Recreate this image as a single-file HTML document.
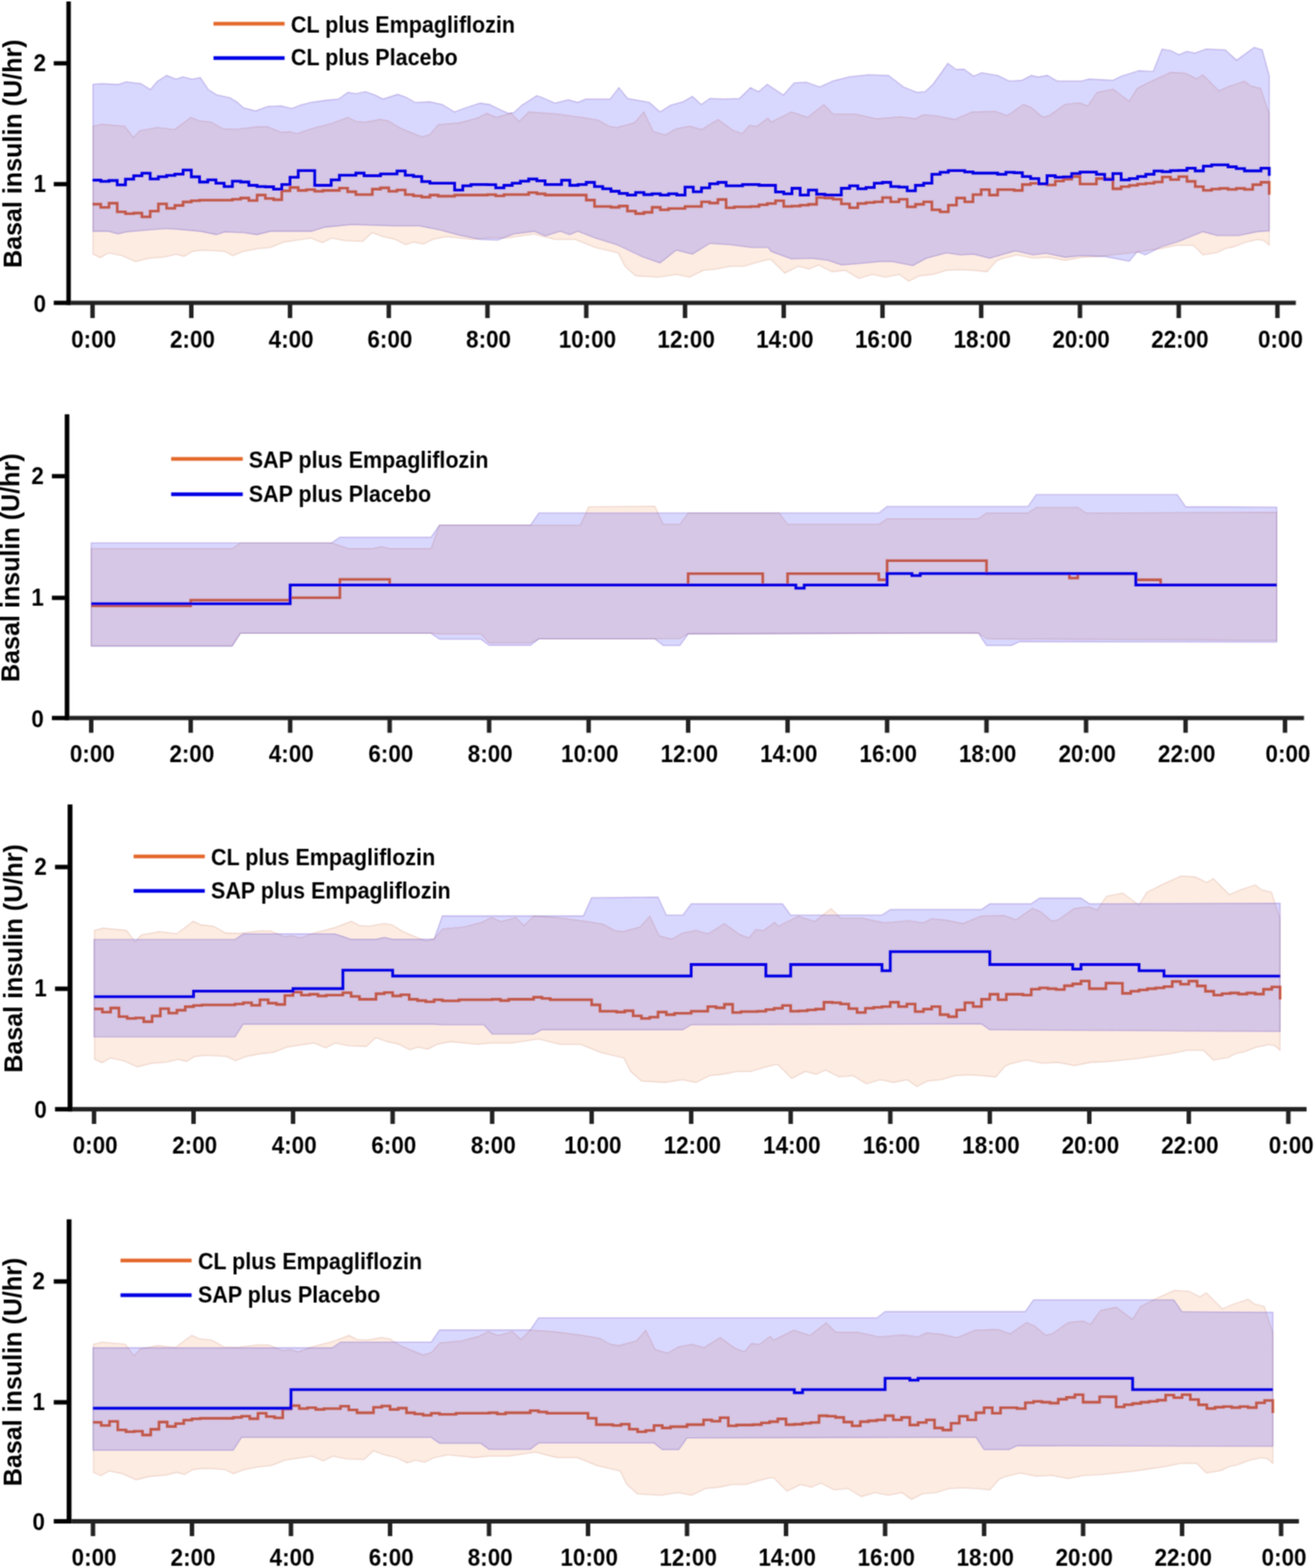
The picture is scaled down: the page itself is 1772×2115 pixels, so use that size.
<!DOCTYPE html>
<html><head><meta charset="utf-8"><title>Basal insulin</title>
<style>html,body{margin:0;padding:0;background:#fff;overflow:hidden;width:1772px;height:2115px} svg{display:block}</style>
</head><body>
<svg width="1772" height="2115" viewBox="0 0 1772 2115" font-family="'Liberation Sans', Arial, sans-serif" font-weight="bold" fill="#000">
<defs><filter id="soft" x="0" y="0" width="1772" height="2115" filterUnits="userSpaceOnUse"><feConvolveMatrix order="3" kernelMatrix="1 2 1 2 4 2 1 2 1" divisor="16" edgeMode="duplicate" preserveAlpha="false"/></filter></defs>
<rect width="1772" height="2115" fill="#fff"/>
<g filter="url(#soft)">
<path d="M125.5,170.1 L137.3,167.3 L168.2,170.1 L180.0,185.5 L188.2,176.4 L211.9,171.9 L235.5,174.6 L257.4,158.2 L268.3,162.8 L284.6,164.6 L301.0,173.7 L319.2,174.2 L346.5,171.0 L361.0,171.0 L379.2,178.3 L390.1,177.3 L401.1,180.1 L419.3,173.7 L447.3,166.4 L469.1,158.2 L480.0,163.7 L492.8,164.6 L512.8,161.0 L523.7,162.8 L538.2,171.9 L551.0,177.3 L569.2,184.6 L580.1,181.0 L591.0,168.2 L620.1,165.5 L643.8,159.2 L656.5,152.8 L669.2,158.2 L689.2,152.8 L700.2,163.7 L712.9,151.0 L729.3,151.9 L751.8,153.7 L784.6,158.2 L806.4,161.9 L821.0,170.1 L831.9,171.9 L855.5,165.5 L868.3,151.0 L881.0,177.3 L897.4,181.9 L911.9,173.7 L930.1,170.1 L946.5,174.6 L968.3,161.0 L988.3,175.5 L1001.0,180.1 L1010.2,169.2 L1021.1,170.1 L1035.6,159.2 L1040.0,164.6 L1067.3,151.0 L1089.1,158.2 L1110.9,141.0 L1123.7,153.7 L1152.8,153.7 L1181.9,160.1 L1214.6,157.3 L1234.7,160.1 L1245.6,154.6 L1263.8,156.4 L1287.4,161.0 L1311.1,151.0 L1342.0,150.1 L1358.6,155.9 L1380.2,140.7 L1391.0,145.1 L1406.2,158.0 L1414.8,155.9 L1436.4,140.7 L1455.9,138.6 L1466.7,142.9 L1479.6,124.5 L1501.2,120.2 L1522.8,136.4 L1533.6,119.1 L1555.2,108.3 L1579.0,97.5 L1598.5,98.6 L1613.6,106.2 L1622.2,100.8 L1643.8,122.4 L1658.9,115.9 L1678.4,109.4 L1687.0,115.9 L1700.0,119.1 L1711.6,153.7 L1711.6,330.8 L1704.3,324.3 L1695.6,323.2 L1680.5,326.5 L1663.2,333.0 L1652.4,335.2 L1641.6,340.6 L1622.2,343.8 L1609.2,330.8 L1587.6,330.8 L1566.0,335.2 L1544.4,338.4 L1522.8,341.6 L1501.2,343.8 L1479.6,346.0 L1458.0,347.0 L1436.4,351.3 L1414.8,347.0 L1393.2,348.1 L1371.6,343.8 L1350.0,349.2 L1343.8,352.0 L1331.1,366.5 L1312.9,364.7 L1294.7,363.8 L1276.5,364.7 L1258.3,370.2 L1240.1,372.0 L1225.6,379.3 L1212.8,370.2 L1194.6,373.8 L1176.4,370.2 L1158.2,375.6 L1140.1,364.7 L1121.9,366.5 L1103.7,357.4 L1090.9,362.9 L1076.4,359.2 L1058.2,368.4 L1040.0,350.2 L1035.6,350.2 L1021.1,353.8 L1002.9,359.2 L984.7,359.2 L966.5,362.9 L948.3,364.7 L930.1,373.8 L911.9,370.2 L888.3,373.8 L857.3,372.0 L842.8,359.2 L833.7,341.1 L802.8,333.8 L775.5,322.9 L748.2,322.9 L730.0,318.3 L720.2,315.6 L702.0,318.3 L683.8,321.1 L674.7,321.1 L656.5,321.1 L638.3,322.9 L620.1,321.1 L601.9,319.2 L583.7,322.9 L571.0,329.3 L558.3,326.5 L547.3,330.1 L532.8,322.9 L516.4,319.2 L501.9,313.8 L489.1,325.6 L465.5,324.7 L447.3,321.1 L434.6,327.4 L419.3,321.1 L401.1,323.8 L382.9,326.5 L364.7,333.8 L346.5,335.6 L328.3,339.2 L313.8,344.8 L302.8,339.2 L291.9,338.3 L273.7,337.4 L259.2,339.2 L248.3,345.7 L237.3,342.9 L222.8,346.6 L201.0,348.4 L182.8,352.9 L164.6,344.8 L146.4,341.1 L135.5,347.4 L125.5,342.9 Z" fill="rgba(232,120,45,0.14)" stroke="rgba(190,100,80,0.24)" stroke-width="1.3"/>
<path d="M124.8,275.4H135.9V279.7H147.0V274.1H158.1V285.7H169.2V288.2H180.3V287.4H191.4V292.5H202.5V284.8H213.6V275.0H224.7V281.0H235.8V277.1H246.9V272.4H258.0V270.7H269.1V270.0H280.2V270.0H291.2V270.0H302.3V270.0H313.4V268.8H324.5V267.1H335.6V270.5H346.7V263.1H357.8V267.7H368.9V269.4H380.0V257.4H391.1V252.9H402.2V256.9H413.3V255.7H424.4V258.0H435.5V256.9H446.6V256.9H457.7V253.7H468.8V258.6H479.9V262.5H491.0V262.5H502.1V255.1H513.2V253.4H524.3V258.0H535.4V256.3H546.5V262.5H557.6V264.2H568.7V265.9H579.8V263.1H590.9V264.6H602.0V264.6H613.1V263.1H624.1V263.1H635.2V263.1H646.3V263.1H657.4V262.5H668.5V264.2H679.6V262.5H690.7V262.5H701.8V262.5H712.9V259.7H724.0V261.4H735.1V263.1H746.2V263.1H757.3V263.1H768.4V263.1H779.5V263.1H790.6V269.9H801.7V278.5H812.8V278.5H823.9V279.6H835.0V277.9H846.1V284.7H857.2V288.1H868.3V286.4H879.4V279.6H890.5V283.0H901.6V281.3H912.7V281.3H923.8V278.5H934.9V278.5H946.0V272.2H957.0V273.9H968.1V269.1H979.2V280.2H990.3V279.0H1001.4V279.0H1012.5V278.5H1023.6V276.2H1034.7V274.5H1045.8V270.8H1056.9V278.5H1068.0V278.0H1079.1V276.7H1090.2V275.6H1101.3V266.5H1112.4V267.1H1123.5V268.8H1134.6V275.0H1145.7V280.2H1156.8V274.5H1167.9V273.3H1179.0V272.2H1190.1V266.5H1201.2V272.2H1212.3V268.8H1223.4V279.0H1234.5V275.6H1245.6V272.2H1256.7V283.0H1267.8V285.8H1278.9V276.7H1289.9V267.1H1301.0V272.2H1312.1V262.5H1323.2V255.7H1334.3V263.1H1345.4V255.7H1356.5V255.7H1367.6V256.9H1378.7V248.9H1389.8V247.2H1400.9V248.3H1412.0V249.5H1423.1V244.3H1434.2V241.8H1445.3V238.1H1456.4V248.3H1467.5V248.3H1478.6V240.9H1489.7V241.0H1500.8V254.6H1511.9V251.7H1523.0V250.0H1534.1V248.3H1545.2V247.2H1556.3V245.5H1567.4V238.7H1578.5V242.2H1589.6V238.2H1600.7V244.6H1611.8V251.8H1622.8V256.8H1633.9V255.0H1645.0V254.1H1656.1V255.5H1667.2V254.1H1678.3V255.5H1689.4V249.1H1700.5V245.9H1711.6V262.8" fill="none" stroke="#e4682a" stroke-width="3.6"/>
<path d="M125.5,113.7 L137.3,112.8 L159.1,114.0 L170.0,110.4 L190.0,112.8 L202.8,120.9 L211.9,110.0 L224.6,101.8 L237.3,106.8 L246.4,103.7 L259.2,106.8 L270.1,104.6 L281.0,120.9 L291.9,127.9 L310.1,131.9 L319.2,137.3 L328.3,145.5 L344.7,149.7 L361.0,143.7 L379.2,142.8 L393.8,146.4 L404.7,141.9 L419.3,138.2 L438.2,135.5 L456.4,133.7 L469.1,124.6 L480.0,126.4 L492.8,123.7 L505.5,128.2 L516.4,133.7 L536.4,127.3 L547.3,131.0 L560.1,138.2 L580.1,137.3 L596.5,141.0 L612.8,151.0 L627.4,145.5 L647.4,139.1 L660.1,141.0 L674.7,148.2 L685.6,152.8 L692.9,151.9 L703.8,141.9 L723.8,129.1 L730.0,131.0 L748.2,139.1 L766.4,134.6 L779.1,138.2 L790.0,133.7 L822.8,133.7 L834.6,118.2 L846.4,132.8 L875.5,138.2 L890.1,151.0 L904.6,141.9 L921.0,137.3 L933.7,130.0 L945.6,141.0 L957.4,132.8 L975.6,133.7 L997.4,132.8 L1012.0,118.2 L1022.9,123.7 L1034.7,113.7 L1040.0,117.3 L1056.4,128.2 L1070.9,111.9 L1087.3,110.9 L1105.5,117.3 L1123.7,109.1 L1145.5,103.7 L1171.0,100.9 L1198.3,101.8 L1218.3,117.3 L1236.5,124.6 L1247.4,123.7 L1258.3,113.7 L1278.3,85.5 L1289.2,93.7 L1300.1,93.3 L1312.9,102.8 L1323.8,98.2 L1345.6,101.8 L1360.8,109.4 L1378.1,108.3 L1391.0,101.8 L1399.7,104.0 L1412.6,101.8 L1425.6,109.4 L1458.0,109.4 L1468.8,106.6 L1501.2,108.3 L1512.0,102.9 L1535.8,95.4 L1555.2,96.4 L1567.1,66.2 L1578.9,68.4 L1589.8,73.8 L1600.6,69.4 L1611.4,71.6 L1626.5,66.2 L1652.4,67.3 L1667.6,81.3 L1691.3,64.0 L1702.1,67.3 L1711.6,101.8 L1711.6,311.4 L1695.6,312.5 L1669.7,317.8 L1641.6,317.8 L1622.2,312.5 L1587.6,326.5 L1566.0,333.0 L1544.4,343.8 L1533.6,339.5 L1522.8,352.4 L1490.4,346.0 L1458.0,344.9 L1436.4,347.0 L1410.5,341.6 L1393.2,343.8 L1369.4,338.4 L1350.0,343.8 L1334.7,348.4 L1312.9,342.9 L1294.7,343.8 L1276.5,341.1 L1249.2,348.4 L1231.0,358.3 L1203.7,352.9 L1185.5,352.9 L1158.2,355.6 L1134.6,357.4 L1116.4,351.1 L1094.6,348.4 L1067.3,349.3 L1040.0,339.2 L1035.6,333.8 L1013.8,333.8 L984.7,330.1 L957.4,328.3 L933.7,342.9 L911.9,337.4 L890.1,354.7 L866.4,346.5 L831.9,330.1 L802.8,321.1 L779.1,312.0 L768.2,316.5 L755.5,312.0 L735.5,318.3 L720.2,312.0 L692.9,315.6 L671.1,323.8 L647.4,322.9 L620.1,317.4 L592.8,310.1 L565.5,304.7 L529.2,304.7 L474.6,302.9 L438.2,306.5 L420.0,312.0 L392.0,312.0 L364.7,312.0 L346.5,316.5 L328.3,313.8 L302.8,312.9 L291.9,316.5 L270.1,312.0 L237.3,309.2 L222.8,308.3 L190.0,311.1 L170.0,312.9 L159.1,315.6 L146.4,312.0 L125.5,312.0 Z" fill="rgba(0,0,250,0.152)" stroke="rgba(80,50,180,0.32)" stroke-width="1.3"/>
<path d="M124.8,243.0H135.9V244.7H147.0V243.5H158.1V249.4H169.2V241.7H180.3V237.1H191.4V233.6H202.5V241.3H213.6V238.3H224.7V236.6H235.8V234.9H246.9V229.4H258.0V238.5H269.1V245.5H280.2V242.6H291.2V247.2H302.3V251.7H313.4V244.3H324.5V245.5H335.6V250.0H346.7V251.7H357.8V252.0H368.9V255.1H380.0V248.9H391.1V239.2H402.2V230.1H413.3V230.1H424.4V250.0H435.5V250.0H446.6V242.6H457.7V236.4H468.8V236.4H479.9V233.5H491.0V237.0H502.1V237.0H513.2V234.7H524.3V234.7H535.4V230.7H546.5V236.4H557.6V238.1H568.7V244.9H579.8V247.2H590.9V247.2H602.0V247.2H613.1V256.3H624.1V250.6H635.2V248.9H646.3V248.9H657.4V249.2H668.5V253.4H679.6V250.0H690.7V247.2H701.8V244.3H712.9V241.5H724.0V243.8H735.1V248.9H746.2V248.9H757.3V243.2H768.4V250.0H779.5V248.9H790.6V246.0H801.7V251.7H812.8V254.6H823.9V258.0H835.0V260.8H846.1V263.1H857.2V259.7H868.3V262.5H879.4V261.4H890.5V263.1H901.6V261.4H912.7V263.1H923.8V252.3H934.9V258.6H946.0V253.4H957.0V247.8H968.1V246.0H979.2V250.6H990.3V250.6H1001.4V248.9H1012.5V248.9H1023.6V250.0H1034.7V250.0H1045.8V258.8H1056.9V261.4H1068.0V254.0H1079.1V263.1H1090.2V256.3H1101.3V262.0H1112.4V263.1H1123.5V263.1H1134.6V254.0H1145.7V250.6H1156.8V254.6H1167.9V252.9H1179.0V247.2H1190.1V246.0H1201.2V251.7H1212.3V252.3H1223.4V257.4H1234.5V250.0H1245.6V247.2H1256.7V235.2H1267.8V232.4H1278.9V230.1H1289.9V230.1H1301.0V231.8H1312.1V233.5H1323.2V233.5H1334.3V233.5H1345.4V235.2H1356.5V232.4H1367.6V233.0H1378.7V238.1H1389.8V240.9H1400.9V247.8H1412.0V237.0H1423.1V239.2H1434.2V238.7H1445.3V234.1H1456.4V232.2H1467.5V232.2H1478.6V235.2H1489.7V242.1H1500.8V234.1H1511.9V242.6H1523.0V240.9H1534.1V238.1H1545.2V235.2H1556.3V230.7H1567.4V231.6H1578.5V230.1H1589.6V229.8H1600.7V226.8H1611.8V230.5H1622.8V224.1H1633.9V222.3H1645.0V222.3H1656.1V225.0H1667.2V227.3H1678.3V230.5H1689.4V230.5H1700.5V226.8H1711.6V237.3" fill="none" stroke="#0000e4" stroke-width="3.8"/>
<rect x="89.5" y="2" width="6.0" height="409.4" fill="#000"/>
<rect x="72.5" y="405.6" width="23.0" height="5.7999999999999545" fill="#000"/>
<rect x="95.5" y="405.6" width="1652.0" height="5.7999999999999545" fill="#222"/>
<rect x="72.5" y="245.5" width="17.5" height="5.8" fill="#000"/>
<rect x="72.5" y="82.5" width="17.5" height="5.8" fill="#000"/>
<rect x="121.8" y="410.9" width="6" height="18.100000000000023" fill="#222"/>
<rect x="255.0" y="410.9" width="6" height="18.100000000000023" fill="#222"/>
<rect x="388.1" y="410.9" width="6" height="18.100000000000023" fill="#222"/>
<rect x="521.3" y="410.9" width="6" height="18.100000000000023" fill="#222"/>
<rect x="654.4" y="410.9" width="6" height="18.100000000000023" fill="#222"/>
<rect x="787.6" y="410.9" width="6" height="18.100000000000023" fill="#222"/>
<rect x="920.8" y="410.9" width="6" height="18.100000000000023" fill="#222"/>
<rect x="1053.9" y="410.9" width="6" height="18.100000000000023" fill="#222"/>
<rect x="1187.1" y="410.9" width="6" height="18.100000000000023" fill="#222"/>
<rect x="1320.2" y="410.9" width="6" height="18.100000000000023" fill="#222"/>
<rect x="1453.4" y="410.9" width="6" height="18.100000000000023" fill="#222"/>
<rect x="1586.6" y="410.9" width="6" height="18.100000000000023" fill="#222"/>
<rect x="1719.7" y="410.9" width="6" height="18.100000000000023" fill="#222"/>
<text transform="translate(126.3,468.5) scale(1,1.08)" text-anchor="middle" font-size="30.3">0:00</text>
<text transform="translate(259.5,468.5) scale(1,1.08)" text-anchor="middle" font-size="30.3">2:00</text>
<text transform="translate(392.6,468.5) scale(1,1.08)" text-anchor="middle" font-size="30.3">4:00</text>
<text transform="translate(525.8,468.5) scale(1,1.08)" text-anchor="middle" font-size="30.3">6:00</text>
<text transform="translate(658.9,468.5) scale(1,1.08)" text-anchor="middle" font-size="30.3">8:00</text>
<text transform="translate(792.1,468.5) scale(1,1.08)" text-anchor="middle" font-size="30.3">10:00</text>
<text transform="translate(925.3,468.5) scale(1,1.08)" text-anchor="middle" font-size="30.3">12:00</text>
<text transform="translate(1058.4,468.5) scale(1,1.08)" text-anchor="middle" font-size="30.3">14:00</text>
<text transform="translate(1191.6,468.5) scale(1,1.08)" text-anchor="middle" font-size="30.3">16:00</text>
<text transform="translate(1324.7,468.5) scale(1,1.08)" text-anchor="middle" font-size="30.3">18:00</text>
<text transform="translate(1457.9,468.5) scale(1,1.08)" text-anchor="middle" font-size="30.3">20:00</text>
<text transform="translate(1591.1,468.5) scale(1,1.08)" text-anchor="middle" font-size="30.3">22:00</text>
<text transform="translate(1726.7,468.5) scale(1,1.08)" text-anchor="middle" font-size="30.3">0:00</text>
<text transform="translate(62,259.1) scale(1,1.08)" text-anchor="end" font-size="30.3">1</text>
<text transform="translate(62,96.1) scale(1,1.08)" text-anchor="end" font-size="30.3">2</text>
<text transform="translate(62,420.7) scale(1,1.08)" text-anchor="end" font-size="30.3">0</text>
<text transform="translate(29.1,207.35) rotate(-90) scale(1,1.045)" text-anchor="middle" font-size="33.85">Basal insulin (U/hr)</text>
<rect x="287.9" y="29.5" width="95.90000000000003" height="5" fill="#e4682a"/>
<rect x="287.9" y="75.8" width="95.90000000000003" height="5" fill="#0000e4"/>
<text transform="translate(392.3,43.6) scale(1,1.08)" font-size="29">CL plus Empagliflozin</text>
<text transform="translate(392.3,88.1) scale(1,1.08)" font-size="29">CL plus Placebo</text>
<path d="M123.0,739.9 L313.1,739.9 L324.2,732.4 L447.2,732.4 L458.4,735.8 L469.6,739.8 L503.1,739.8 L514.3,737.1 L525.5,739.8 L581.4,739.8 L592.6,708.3 L782.6,708.3 L793.8,683.7 L883.2,682.8 L894.4,707.1 L916.8,707.1 L928.0,691.9 L1050.9,691.9 L1062.1,707.1 L1185.1,707.1 L1196.3,699.6 L1319.3,699.6 L1330.4,691.9 L1386.3,691.9 L1397.5,684.3 L1453.4,684.3 L1464.6,691.9 L1721.7,691.0 L1721.7,864.0 L1330.4,861.7 L1319.3,853.8 L928.0,855.0 L916.8,861.7 L726.7,861.7 L715.5,867.4 L659.6,867.4 L648.5,855.0 L592.6,855.0 L581.4,854.2 L324.2,854.2 L313.1,871.2 L123.0,871.2 Z" fill="rgba(232,120,45,0.14)" stroke="rgba(190,100,80,0.24)" stroke-width="1.3"/>
<path d="M123.0,817.1H257.2V809.5H391.3V806.2H458.4V781.5H525.5V789.2H928.0V773.7H1028.6V789.2H1062.1V773.7H1185.1V782.1H1196.3V756.3H1330.4V773.7H1442.2V779.8H1453.4V773.7H1531.7V782.1H1565.2V789.3H1721.7" fill="none" stroke="#e4682a" stroke-width="3.6"/>
<path d="M123.0,732.4 L447.2,732.4 L458.4,724.7 L581.4,724.7 L592.6,708.3 L715.5,708.3 L726.7,691.9 L1185.1,691.9 L1196.3,683.2 L1386.3,683.2 L1397.5,667.2 L1587.6,667.2 L1598.8,683.5 L1721.7,684.1 L1721.7,866.1 L1375.2,865.5 L1364.0,870.7 L1330.4,870.7 L1319.3,853.8 L928.0,855.0 L916.8,870.7 L894.4,870.7 L883.2,861.7 L726.7,861.7 L715.5,870.4 L659.6,870.4 L648.5,862.2 L592.6,862.2 L581.4,854.2 L324.2,854.2 L313.1,871.5 L123.0,871.5 Z" fill="rgba(0,0,250,0.152)" stroke="rgba(80,50,180,0.32)" stroke-width="1.3"/>
<path d="M123.0,814.4H391.3V789.2H1073.3V793.4H1084.5V789.2H1196.3V773.7H1229.8V776.4H1241.0V773.7H1531.7V789.2H1721.7" fill="none" stroke="#0000e4" stroke-width="3.8"/>
<rect x="87.3" y="558.8" width="6.200000000000003" height="412.6" fill="#000"/>
<rect x="70" y="965.6" width="23.5" height="5.7999999999999545" fill="#000"/>
<rect x="93.5" y="965.6" width="1665.0" height="5.7999999999999545" fill="#222"/>
<rect x="70" y="803.5" width="17.799999999999997" height="5.8" fill="#000"/>
<rect x="70" y="639.4" width="17.799999999999997" height="5.8" fill="#000"/>
<rect x="120.0" y="970.9" width="6" height="17.5" fill="#222"/>
<rect x="254.2" y="970.9" width="6" height="17.5" fill="#222"/>
<rect x="388.3" y="970.9" width="6" height="17.5" fill="#222"/>
<rect x="522.5" y="970.9" width="6" height="17.5" fill="#222"/>
<rect x="656.6" y="970.9" width="6" height="17.5" fill="#222"/>
<rect x="790.8" y="970.9" width="6" height="17.5" fill="#222"/>
<rect x="925.0" y="970.9" width="6" height="17.5" fill="#222"/>
<rect x="1059.1" y="970.9" width="6" height="17.5" fill="#222"/>
<rect x="1193.3" y="970.9" width="6" height="17.5" fill="#222"/>
<rect x="1327.4" y="970.9" width="6" height="17.5" fill="#222"/>
<rect x="1461.6" y="970.9" width="6" height="17.5" fill="#222"/>
<rect x="1595.8" y="970.9" width="6" height="17.5" fill="#222"/>
<rect x="1729.9" y="970.9" width="6" height="17.5" fill="#222"/>
<text transform="translate(124.5,1028.3) scale(1,1.08)" text-anchor="middle" font-size="30.3">0:00</text>
<text transform="translate(258.7,1028.3) scale(1,1.08)" text-anchor="middle" font-size="30.3">2:00</text>
<text transform="translate(392.8,1028.3) scale(1,1.08)" text-anchor="middle" font-size="30.3">4:00</text>
<text transform="translate(527.0,1028.3) scale(1,1.08)" text-anchor="middle" font-size="30.3">6:00</text>
<text transform="translate(661.1,1028.3) scale(1,1.08)" text-anchor="middle" font-size="30.3">8:00</text>
<text transform="translate(795.3,1028.3) scale(1,1.08)" text-anchor="middle" font-size="30.3">10:00</text>
<text transform="translate(929.5,1028.3) scale(1,1.08)" text-anchor="middle" font-size="30.3">12:00</text>
<text transform="translate(1063.6,1028.3) scale(1,1.08)" text-anchor="middle" font-size="30.3">14:00</text>
<text transform="translate(1197.8,1028.3) scale(1,1.08)" text-anchor="middle" font-size="30.3">16:00</text>
<text transform="translate(1331.9,1028.3) scale(1,1.08)" text-anchor="middle" font-size="30.3">18:00</text>
<text transform="translate(1466.1,1028.3) scale(1,1.08)" text-anchor="middle" font-size="30.3">20:00</text>
<text transform="translate(1600.3,1028.3) scale(1,1.08)" text-anchor="middle" font-size="30.3">22:00</text>
<text transform="translate(1736.9,1028.3) scale(1,1.08)" text-anchor="middle" font-size="30.3">0:00</text>
<text transform="translate(59,817.1) scale(1,1.08)" text-anchor="end" font-size="30.3">1</text>
<text transform="translate(59,653.0) scale(1,1.08)" text-anchor="end" font-size="30.3">2</text>
<text transform="translate(59,980.7) scale(1,1.08)" text-anchor="end" font-size="30.3">0</text>
<text transform="translate(26.4,765.75) rotate(-90) scale(1,1.045)" text-anchor="middle" font-size="33.85">Basal insulin (U/hr)</text>
<rect x="230.8" y="616.5" width="96.59999999999997" height="5" fill="#e4682a"/>
<rect x="230.8" y="664.2" width="96.59999999999997" height="5" fill="#0000e4"/>
<text transform="translate(335.4,630.6) scale(1,1.08)" font-size="29">SAP plus Empagliflozin</text>
<text transform="translate(335.4,676.5) scale(1,1.08)" font-size="29">SAP plus Placebo</text>
<path d="M127.5,1254.8 L139.4,1252.0 L170.5,1254.8 L182.4,1270.3 L190.7,1261.2 L214.6,1256.6 L238.4,1259.4 L260.5,1242.8 L271.4,1247.5 L287.9,1249.3 L304.4,1258.5 L322.7,1259.0 L350.3,1255.7 L364.9,1255.7 L383.2,1263.1 L394.2,1262.1 L405.3,1264.9 L423.6,1258.5 L451.9,1251.1 L473.8,1242.8 L484.8,1248.4 L497.7,1249.3 L517.9,1245.7 L528.9,1247.5 L543.5,1256.6 L556.4,1262.1 L574.7,1269.4 L585.7,1265.8 L596.7,1252.9 L626.0,1250.2 L649.9,1243.8 L662.7,1237.4 L675.5,1242.8 L695.7,1237.4 L706.8,1248.4 L719.6,1235.6 L736.1,1236.5 L758.8,1238.3 L791.9,1242.8 L813.8,1246.6 L828.5,1254.8 L839.5,1256.6 L863.3,1250.2 L876.2,1235.6 L889.0,1262.1 L905.6,1266.7 L920.2,1258.5 L938.5,1254.8 L955.0,1259.4 L977.0,1245.7 L997.2,1260.3 L1010.0,1264.9 L1019.2,1253.9 L1030.2,1254.8 L1044.9,1243.8 L1049.3,1249.3 L1076.8,1235.6 L1098.8,1242.8 L1120.7,1225.5 L1133.7,1238.3 L1163.0,1238.3 L1192.3,1244.7 L1225.3,1241.9 L1245.5,1244.7 L1256.5,1239.2 L1274.9,1241.0 L1298.7,1245.7 L1322.5,1235.6 L1353.7,1234.7 L1370.4,1240.5 L1392.2,1225.2 L1403.1,1229.6 L1418.4,1242.6 L1427.1,1240.5 L1448.8,1225.2 L1468.5,1223.1 L1479.4,1227.4 L1492.4,1208.9 L1514.2,1204.6 L1535.9,1220.9 L1546.8,1203.4 L1568.6,1192.6 L1592.6,1181.7 L1612.2,1182.8 L1627.5,1190.5 L1636.1,1185.0 L1657.9,1206.8 L1673.1,1200.2 L1692.8,1193.7 L1701.4,1200.2 L1714.5,1203.4 L1726.2,1238.3 L1726.2,1416.7 L1718.9,1410.2 L1710.1,1409.1 L1694.9,1412.4 L1677.4,1418.9 L1666.6,1421.1 L1655.7,1426.6 L1636.1,1429.8 L1623.0,1416.7 L1601.2,1416.7 L1579.5,1421.1 L1557.7,1424.4 L1535.9,1427.6 L1514.2,1429.8 L1492.4,1432.0 L1470.6,1433.0 L1448.8,1437.4 L1427.1,1433.0 L1405.3,1434.1 L1383.5,1429.8 L1361.8,1435.2 L1355.5,1438.1 L1342.7,1452.7 L1324.4,1450.9 L1306.0,1449.9 L1287.7,1450.9 L1269.3,1456.4 L1251.0,1458.2 L1236.4,1465.6 L1223.5,1456.4 L1205.1,1460.0 L1186.8,1456.4 L1168.4,1461.8 L1150.2,1450.9 L1131.8,1452.7 L1113.5,1443.5 L1100.6,1449.0 L1086.0,1445.3 L1067.6,1454.6 L1049.3,1436.2 L1044.9,1436.2 L1030.2,1439.9 L1011.9,1445.3 L993.5,1445.3 L975.2,1449.0 L956.9,1450.9 L938.5,1460.0 L920.2,1456.4 L896.4,1460.0 L865.1,1458.2 L850.5,1445.3 L841.3,1427.1 L810.2,1419.7 L782.7,1408.7 L755.2,1408.7 L736.8,1404.1 L726.9,1401.4 L708.6,1404.1 L690.2,1406.9 L681.1,1406.9 L662.7,1406.9 L644.4,1408.7 L626.0,1406.9 L607.7,1405.0 L589.4,1408.7 L576.6,1415.2 L563.8,1412.4 L552.7,1416.0 L538.0,1408.7 L521.5,1405.0 L506.9,1399.6 L494.0,1411.5 L470.2,1410.6 L451.9,1406.9 L439.1,1413.3 L423.6,1406.9 L405.3,1409.7 L387.0,1412.4 L368.6,1419.7 L350.3,1421.5 L331.9,1425.2 L317.3,1430.8 L306.2,1425.2 L295.2,1424.3 L276.9,1423.4 L262.3,1425.2 L251.3,1431.7 L240.2,1428.9 L225.6,1432.6 L203.6,1434.4 L185.3,1439.0 L166.9,1430.8 L148.6,1427.1 L137.6,1433.4 L127.5,1428.9 Z" fill="rgba(232,120,45,0.14)" stroke="rgba(190,100,80,0.24)" stroke-width="1.3"/>
<path d="M126.8,1360.9H138.0V1365.2H149.2V1359.6H160.4V1371.3H171.5V1373.8H182.7V1373.0H193.9V1378.1H205.1V1370.4H216.3V1360.5H227.5V1366.5H238.6V1362.6H249.8V1357.9H261.0V1356.2H272.2V1355.5H283.4V1355.5H294.6V1355.5H305.8V1355.5H316.9V1354.3H328.1V1352.5H339.3V1356.0H350.5V1348.5H361.7V1353.1H372.9V1354.9H384.1V1342.8H395.2V1338.2H406.4V1342.3H417.6V1341.1H428.8V1343.4H440.0V1342.3H451.2V1342.3H462.4V1339.0H473.5V1344.0H484.7V1347.9H495.9V1347.9H507.1V1340.4H518.3V1338.7H529.5V1343.4H540.6V1341.7H551.8V1347.9H563.0V1349.6H574.2V1351.3H585.4V1348.5H596.6V1350.0H607.8V1350.0H618.9V1348.5H630.1V1348.5H641.3V1348.5H652.5V1348.5H663.7V1347.9H674.9V1349.6H686.0V1347.9H697.2V1347.9H708.4V1347.9H719.6V1345.1H730.8V1346.8H742.0V1348.5H753.2V1348.5H764.3V1348.5H775.5V1348.5H786.7V1348.5H797.9V1355.4H809.1V1364.0H820.3V1364.0H831.5V1365.1H842.6V1363.4H853.8V1370.3H865.0V1373.7H876.2V1372.0H887.4V1365.1H898.6V1368.6H909.7V1366.8H920.9V1366.8H932.1V1364.0H943.3V1364.0H954.5V1357.7H965.7V1359.4H976.9V1354.6H988.0V1365.7H999.2V1364.5H1010.4V1364.5H1021.6V1364.0H1032.8V1361.7H1044.0V1360.0H1055.2V1356.3H1066.3V1364.0H1077.5V1363.5H1088.7V1362.2H1099.9V1361.1H1111.1V1351.9H1122.3V1352.5H1133.5V1354.3H1144.6V1360.5H1155.8V1365.7H1167.0V1360.0H1178.2V1358.8H1189.4V1357.7H1200.6V1351.9H1211.7V1357.7H1222.9V1354.3H1234.1V1364.5H1245.3V1361.1H1256.5V1357.7H1267.7V1368.6H1278.9V1371.4H1290.0V1362.2H1301.2V1352.5H1312.4V1357.7H1323.6V1347.9H1334.8V1341.1H1346.0V1348.5H1357.1V1341.1H1368.3V1341.1H1379.5V1342.3H1390.7V1334.2H1401.9V1332.5H1413.1V1333.6H1424.3V1334.8H1435.4V1329.6H1446.6V1327.1H1457.8V1323.3H1469.0V1333.6H1480.2V1333.6H1491.4V1326.1H1502.6V1326.2H1513.7V1339.9H1524.9V1337.0H1536.1V1335.3H1547.3V1333.6H1558.5V1332.5H1569.7V1330.8H1580.8V1323.9H1592.0V1327.5H1603.2V1323.4H1614.4V1329.9H1625.6V1337.1H1636.8V1342.2H1648.0V1340.3H1659.1V1339.4H1670.3V1340.9H1681.5V1339.4H1692.7V1340.9H1703.9V1334.4H1715.1V1331.2H1726.3V1348.2" fill="none" stroke="#e4682a" stroke-width="3.6"/>
<path d="M126.8,1267.2 L316.9,1267.2 L328.1,1259.6 L451.2,1259.6 L462.4,1263.1 L473.5,1267.0 L507.1,1267.0 L518.3,1264.4 L529.5,1267.0 L585.4,1267.0 L596.6,1235.5 L786.7,1235.5 L797.9,1210.9 L887.4,1210.1 L898.6,1234.4 L920.9,1234.4 L932.1,1219.1 L1055.2,1219.1 L1066.3,1234.4 L1189.4,1234.4 L1200.6,1226.8 L1323.6,1226.8 L1334.8,1219.1 L1390.7,1219.1 L1401.9,1211.5 L1457.8,1211.5 L1469.0,1219.1 L1726.3,1218.3 L1726.3,1391.3 L1334.8,1389.0 L1323.6,1381.2 L932.1,1382.3 L920.9,1389.0 L730.8,1389.0 L719.6,1394.8 L663.7,1394.8 L652.5,1382.3 L596.6,1382.3 L585.4,1381.5 L328.1,1381.5 L316.9,1398.6 L126.8,1398.6 Z" fill="rgba(0,0,250,0.152)" stroke="rgba(80,50,180,0.32)" stroke-width="1.3"/>
<path d="M126.8,1344.4H261.0V1336.8H395.2V1333.5H462.4V1308.7H529.5V1316.5H932.1V1301.0H1032.8V1316.5H1066.3V1301.0H1189.4V1309.4H1200.6V1283.6H1334.8V1301.0H1446.6V1307.1H1457.8V1301.0H1536.1V1309.4H1569.7V1316.6H1726.3" fill="none" stroke="#0000e4" stroke-width="3.8"/>
<rect x="91.2" y="1085.1" width="6.5" height="414.10000000000014" fill="#000"/>
<rect x="74.2" y="1493.2" width="23.5" height="6.0" fill="#000"/>
<rect x="97.7" y="1493.2" width="1664.3" height="6.0" fill="#222"/>
<rect x="74.2" y="1330.7" width="17.5" height="6.0" fill="#000"/>
<rect x="74.2" y="1166.5" width="17.5" height="6.0" fill="#000"/>
<rect x="123.8" y="1498.7" width="6" height="17.299999999999955" fill="#222"/>
<rect x="258.0" y="1498.7" width="6" height="17.299999999999955" fill="#222"/>
<rect x="392.2" y="1498.7" width="6" height="17.299999999999955" fill="#222"/>
<rect x="526.5" y="1498.7" width="6" height="17.299999999999955" fill="#222"/>
<rect x="660.7" y="1498.7" width="6" height="17.299999999999955" fill="#222"/>
<rect x="794.9" y="1498.7" width="6" height="17.299999999999955" fill="#222"/>
<rect x="929.1" y="1498.7" width="6" height="17.299999999999955" fill="#222"/>
<rect x="1063.3" y="1498.7" width="6" height="17.299999999999955" fill="#222"/>
<rect x="1197.6" y="1498.7" width="6" height="17.299999999999955" fill="#222"/>
<rect x="1331.8" y="1498.7" width="6" height="17.299999999999955" fill="#222"/>
<rect x="1466.0" y="1498.7" width="6" height="17.299999999999955" fill="#222"/>
<rect x="1600.2" y="1498.7" width="6" height="17.299999999999955" fill="#222"/>
<rect x="1734.4" y="1498.7" width="6" height="17.299999999999955" fill="#222"/>
<text transform="translate(128.3,1555.8) scale(1,1.08)" text-anchor="middle" font-size="30.3">0:00</text>
<text transform="translate(262.5,1555.8) scale(1,1.08)" text-anchor="middle" font-size="30.3">2:00</text>
<text transform="translate(396.7,1555.8) scale(1,1.08)" text-anchor="middle" font-size="30.3">4:00</text>
<text transform="translate(531.0,1555.8) scale(1,1.08)" text-anchor="middle" font-size="30.3">6:00</text>
<text transform="translate(665.2,1555.8) scale(1,1.08)" text-anchor="middle" font-size="30.3">8:00</text>
<text transform="translate(799.4,1555.8) scale(1,1.08)" text-anchor="middle" font-size="30.3">10:00</text>
<text transform="translate(933.6,1555.8) scale(1,1.08)" text-anchor="middle" font-size="30.3">12:00</text>
<text transform="translate(1067.8,1555.8) scale(1,1.08)" text-anchor="middle" font-size="30.3">14:00</text>
<text transform="translate(1202.1,1555.8) scale(1,1.08)" text-anchor="middle" font-size="30.3">16:00</text>
<text transform="translate(1336.3,1555.8) scale(1,1.08)" text-anchor="middle" font-size="30.3">18:00</text>
<text transform="translate(1470.5,1555.8) scale(1,1.08)" text-anchor="middle" font-size="30.3">20:00</text>
<text transform="translate(1604.7,1555.8) scale(1,1.08)" text-anchor="middle" font-size="30.3">22:00</text>
<text transform="translate(1741.4,1555.8) scale(1,1.08)" text-anchor="middle" font-size="30.3">0:00</text>
<text transform="translate(63,1344.4) scale(1,1.08)" text-anchor="end" font-size="30.3">1</text>
<text transform="translate(63,1180.2) scale(1,1.08)" text-anchor="end" font-size="30.3">2</text>
<text transform="translate(63,1508.4) scale(1,1.08)" text-anchor="end" font-size="30.3">0</text>
<text transform="translate(30.1,1292.85) rotate(-90) scale(1,1.045)" text-anchor="middle" font-size="33.85">Basal insulin (U/hr)</text>
<rect x="180.2" y="1152.7" width="96.0" height="5" fill="#e4682a"/>
<rect x="180.2" y="1199.2" width="96.0" height="5" fill="#0000e4"/>
<text transform="translate(284.6,1166.8) scale(1,1.08)" font-size="29">CL plus Empagliflozin</text>
<text transform="translate(284.6,1211.5) scale(1,1.08)" font-size="29">SAP plus Empagliflozin</text>
<path d="M126.1,1813.2 L137.9,1810.4 L168.9,1813.2 L180.7,1828.6 L189.0,1819.5 L212.7,1815.0 L236.4,1817.7 L258.4,1801.3 L269.3,1805.9 L285.6,1807.7 L302.1,1816.8 L320.3,1817.3 L347.7,1814.1 L362.2,1814.1 L380.5,1821.4 L391.4,1820.4 L402.4,1823.2 L420.7,1816.8 L448.8,1809.5 L470.6,1801.3 L481.6,1806.8 L494.4,1807.7 L514.4,1804.1 L525.4,1805.9 L539.9,1815.0 L552.8,1820.4 L571.0,1827.7 L581.9,1824.1 L592.9,1811.3 L622.0,1808.6 L645.8,1802.3 L658.5,1795.9 L671.3,1801.3 L691.3,1795.9 L702.4,1806.8 L715.1,1794.1 L731.5,1795.0 L754.1,1796.8 L787.0,1801.3 L808.8,1805.0 L823.5,1813.2 L834.4,1815.0 L858.1,1808.6 L870.9,1794.1 L883.6,1820.4 L900.1,1825.0 L914.6,1816.8 L932.9,1813.2 L949.3,1817.7 L971.2,1804.1 L991.2,1818.6 L1004.0,1823.2 L1013.2,1812.3 L1024.1,1813.2 L1038.7,1802.3 L1043.1,1807.7 L1070.4,1794.1 L1092.3,1801.3 L1114.2,1784.1 L1127.0,1796.8 L1156.2,1796.8 L1185.4,1803.2 L1218.1,1800.4 L1238.3,1803.2 L1249.2,1797.7 L1267.5,1799.5 L1291.1,1804.1 L1314.9,1794.1 L1345.9,1793.2 L1362.5,1799.0 L1384.2,1783.8 L1395.0,1788.2 L1410.3,1801.1 L1418.9,1799.0 L1440.5,1783.8 L1460.1,1781.7 L1470.9,1786.0 L1483.9,1767.6 L1505.5,1763.3 L1527.2,1779.5 L1538.0,1762.2 L1559.7,1751.4 L1583.5,1740.6 L1603.1,1741.7 L1618.2,1749.3 L1626.8,1743.9 L1648.5,1765.5 L1663.6,1759.0 L1683.2,1752.5 L1691.8,1759.0 L1704.9,1762.2 L1716.5,1796.8 L1716.5,1973.9 L1709.2,1967.4 L1700.4,1966.3 L1685.3,1969.6 L1668.0,1976.1 L1657.1,1978.3 L1646.3,1983.7 L1626.8,1986.9 L1613.8,1973.9 L1592.2,1973.9 L1570.5,1978.3 L1548.8,1981.5 L1527.2,1984.7 L1505.5,1986.9 L1483.9,1989.1 L1462.2,1990.1 L1440.5,1994.4 L1418.9,1990.1 L1397.2,1991.2 L1375.6,1986.9 L1353.9,1992.3 L1347.7,1995.1 L1335.0,2009.6 L1316.7,2007.8 L1298.5,2006.9 L1280.2,2007.8 L1262.0,2013.3 L1243.7,2015.1 L1229.2,2022.4 L1216.3,2013.3 L1198.1,2016.9 L1179.8,2013.3 L1161.6,2018.7 L1143.4,2007.8 L1125.2,2009.6 L1106.9,2000.5 L1094.1,2006.0 L1079.6,2002.3 L1061.3,2011.5 L1043.1,1993.3 L1038.7,1993.3 L1024.1,1996.9 L1005.9,2002.3 L987.6,2002.3 L969.4,2006.0 L951.1,2007.8 L932.9,2016.9 L914.6,2013.3 L891.0,2016.9 L859.9,2015.1 L845.3,2002.3 L836.2,1984.2 L805.2,1976.9 L777.9,1966.0 L750.5,1966.0 L732.2,1961.4 L722.4,1958.7 L704.2,1961.4 L685.9,1964.2 L676.8,1964.2 L658.5,1964.2 L640.3,1966.0 L622.0,1964.2 L603.8,1962.3 L585.5,1966.0 L572.8,1972.4 L560.1,1969.6 L549.0,1973.2 L534.5,1966.0 L518.1,1962.3 L503.5,1956.9 L490.7,1968.7 L467.0,1967.8 L448.8,1964.2 L436.0,1970.5 L420.7,1964.2 L402.4,1966.9 L384.2,1969.6 L365.9,1976.9 L347.7,1978.7 L329.5,1982.3 L314.9,1987.9 L303.9,1982.3 L293.0,1981.4 L274.7,1980.5 L260.2,1982.3 L249.2,1988.8 L238.2,1986.0 L223.7,1989.7 L201.8,1991.5 L183.6,1996.0 L165.3,1987.9 L147.1,1984.2 L136.1,1990.5 L126.1,1986.0 Z" fill="rgba(232,120,45,0.14)" stroke="rgba(190,100,80,0.24)" stroke-width="1.3"/>
<path d="M125.4,1918.5H136.5V1922.8H147.7V1917.2H158.8V1928.8H169.9V1931.3H181.0V1930.5H192.2V1935.6H203.3V1927.9H214.4V1918.1H225.5V1924.1H236.7V1920.2H247.8V1915.5H258.9V1913.8H270.0V1913.1H281.2V1913.1H292.3V1913.1H303.4V1913.1H314.6V1911.9H325.7V1910.2H336.8V1913.6H347.9V1906.2H359.1V1910.8H370.2V1912.5H381.3V1900.5H392.4V1896.0H403.6V1900.0H414.7V1898.8H425.8V1901.1H436.9V1900.0H448.1V1900.0H459.2V1896.8H470.3V1901.7H481.5V1905.6H492.6V1905.6H503.7V1898.2H514.8V1896.5H526.0V1901.1H537.1V1899.4H548.2V1905.6H559.3V1907.3H570.5V1909.0H581.6V1906.2H592.7V1907.7H603.8V1907.7H615.0V1906.2H626.1V1906.2H637.2V1906.2H648.4V1906.2H659.5V1905.6H670.6V1907.3H681.7V1905.6H692.9V1905.6H704.0V1905.6H715.1V1902.8H726.2V1904.5H737.4V1906.2H748.5V1906.2H759.6V1906.2H770.7V1906.2H781.9V1906.2H793.0V1913.0H804.1V1921.6H815.3V1921.6H826.4V1922.7H837.5V1921.0H848.6V1927.8H859.8V1931.2H870.9V1929.5H882.0V1922.7H893.1V1926.1H904.3V1924.4H915.4V1924.4H926.5V1921.6H937.6V1921.6H948.8V1915.3H959.9V1917.0H971.0V1912.2H982.2V1923.3H993.3V1922.1H1004.4V1922.1H1015.5V1921.6H1026.7V1919.3H1037.8V1917.6H1048.9V1913.9H1060.0V1921.6H1071.2V1921.1H1082.3V1919.8H1093.4V1918.7H1104.5V1909.6H1115.7V1910.2H1126.8V1911.9H1137.9V1918.1H1149.1V1923.3H1160.2V1917.6H1171.3V1916.4H1182.4V1915.3H1193.6V1909.6H1204.7V1915.3H1215.8V1911.9H1226.9V1922.1H1238.1V1918.7H1249.2V1915.3H1260.3V1926.1H1271.4V1928.9H1282.6V1919.8H1293.7V1910.2H1304.8V1915.3H1316.0V1905.6H1327.1V1898.8H1338.2V1906.2H1349.3V1898.8H1360.5V1898.8H1371.6V1900.0H1382.7V1892.0H1393.8V1890.3H1405.0V1891.4H1416.1V1892.6H1427.2V1887.4H1438.3V1884.9H1449.5V1881.2H1460.6V1891.4H1471.7V1891.4H1482.9V1884.0H1494.0V1884.1H1505.1V1897.7H1516.2V1894.8H1527.4V1893.1H1538.5V1891.4H1549.6V1890.3H1560.7V1888.6H1571.9V1881.8H1583.0V1885.3H1594.1V1881.3H1605.2V1887.7H1616.4V1894.9H1627.5V1899.9H1638.6V1898.1H1649.8V1897.2H1660.9V1898.6H1672.0V1897.2H1683.1V1898.6H1694.3V1892.2H1705.4V1889.0H1716.5V1905.9" fill="none" stroke="#e4682a" stroke-width="3.6"/>
<path d="M125.4,1818.0 L448.1,1818.0 L459.2,1810.3 L581.6,1810.3 L592.7,1794.0 L715.1,1794.0 L726.2,1777.7 L1182.4,1777.7 L1193.6,1769.1 L1382.7,1769.1 L1393.8,1753.3 L1583.0,1753.3 L1594.1,1769.4 L1716.5,1770.1 L1716.5,1950.8 L1371.6,1950.2 L1360.5,1955.4 L1327.1,1955.4 L1316.0,1938.6 L926.5,1939.7 L915.4,1955.4 L893.1,1955.4 L882.0,1946.4 L726.2,1946.4 L715.1,1955.1 L659.5,1955.1 L648.4,1946.9 L592.7,1946.9 L581.6,1938.9 L325.7,1938.9 L314.6,1956.2 L125.4,1956.2 Z" fill="rgba(0,0,250,0.152)" stroke="rgba(80,50,180,0.32)" stroke-width="1.3"/>
<path d="M125.4,1899.5H392.4V1874.4H1071.2V1878.6H1082.3V1874.4H1193.6V1859.1H1226.9V1861.7H1238.1V1859.1H1527.4V1874.4H1716.5" fill="none" stroke="#0000e4" stroke-width="3.8"/>
<rect x="89.9" y="1644.7" width="6.5" height="410.29999999999995" fill="#000"/>
<rect x="72.5" y="2049.0" width="23.900000000000006" height="6.0" fill="#000"/>
<rect x="96.4" y="2049.0" width="1655.3" height="6.0" fill="#222"/>
<rect x="72.5" y="1888.5" width="17.900000000000006" height="6.0" fill="#000"/>
<rect x="72.5" y="1725.5" width="17.900000000000006" height="6.0" fill="#000"/>
<rect x="122.4" y="2054.5" width="6" height="17.5" fill="#222"/>
<rect x="255.9" y="2054.5" width="6" height="17.5" fill="#222"/>
<rect x="389.4" y="2054.5" width="6" height="17.5" fill="#222"/>
<rect x="523.0" y="2054.5" width="6" height="17.5" fill="#222"/>
<rect x="656.5" y="2054.5" width="6" height="17.5" fill="#222"/>
<rect x="790.0" y="2054.5" width="6" height="17.5" fill="#222"/>
<rect x="923.5" y="2054.5" width="6" height="17.5" fill="#222"/>
<rect x="1057.0" y="2054.5" width="6" height="17.5" fill="#222"/>
<rect x="1190.6" y="2054.5" width="6" height="17.5" fill="#222"/>
<rect x="1324.1" y="2054.5" width="6" height="17.5" fill="#222"/>
<rect x="1457.6" y="2054.5" width="6" height="17.5" fill="#222"/>
<rect x="1591.1" y="2054.5" width="6" height="17.5" fill="#222"/>
<rect x="1724.6" y="2054.5" width="6" height="17.5" fill="#222"/>
<text transform="translate(126.9,2111.8) scale(1,1.08)" text-anchor="middle" font-size="30.3">0:00</text>
<text transform="translate(260.4,2111.8) scale(1,1.08)" text-anchor="middle" font-size="30.3">2:00</text>
<text transform="translate(393.9,2111.8) scale(1,1.08)" text-anchor="middle" font-size="30.3">4:00</text>
<text transform="translate(527.5,2111.8) scale(1,1.08)" text-anchor="middle" font-size="30.3">6:00</text>
<text transform="translate(661.0,2111.8) scale(1,1.08)" text-anchor="middle" font-size="30.3">8:00</text>
<text transform="translate(794.5,2111.8) scale(1,1.08)" text-anchor="middle" font-size="30.3">10:00</text>
<text transform="translate(928.0,2111.8) scale(1,1.08)" text-anchor="middle" font-size="30.3">12:00</text>
<text transform="translate(1061.5,2111.8) scale(1,1.08)" text-anchor="middle" font-size="30.3">14:00</text>
<text transform="translate(1195.1,2111.8) scale(1,1.08)" text-anchor="middle" font-size="30.3">16:00</text>
<text transform="translate(1328.6,2111.8) scale(1,1.08)" text-anchor="middle" font-size="30.3">18:00</text>
<text transform="translate(1462.1,2111.8) scale(1,1.08)" text-anchor="middle" font-size="30.3">20:00</text>
<text transform="translate(1595.6,2111.8) scale(1,1.08)" text-anchor="middle" font-size="30.3">22:00</text>
<text transform="translate(1731.6,2111.8) scale(1,1.08)" text-anchor="middle" font-size="30.3">0:00</text>
<text transform="translate(60.5,1902.2) scale(1,1.08)" text-anchor="end" font-size="30.3">1</text>
<text transform="translate(60.5,1739.2) scale(1,1.08)" text-anchor="end" font-size="30.3">2</text>
<text transform="translate(60.5,2064.2) scale(1,1.08)" text-anchor="end" font-size="30.3">0</text>
<text transform="translate(28.8,1850.6) rotate(-90) scale(1,1.045)" text-anchor="middle" font-size="33.85">Basal insulin (U/hr)</text>
<rect x="162.5" y="1697.7" width="95.89999999999998" height="5" fill="#e4682a"/>
<rect x="162.5" y="1744.5" width="95.89999999999998" height="5" fill="#0000e4"/>
<text transform="translate(266.9,1711.8) scale(1,1.08)" font-size="29">CL plus Empagliflozin</text>
<text transform="translate(266.9,1756.8) scale(1,1.08)" font-size="29">SAP plus Placebo</text>
</g>
</svg>
</body></html>
